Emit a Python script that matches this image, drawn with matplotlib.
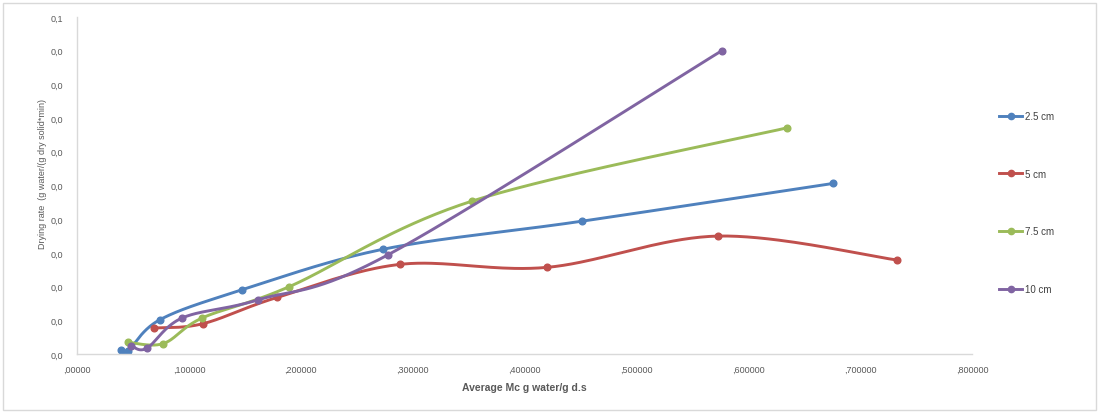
import matplotlib.pyplot as plt
import numpy as np
from matplotlib.patches import Rectangle

plt.rcParams['font.family'] = ['Liberation Sans', 'DejaVu Sans']

# Average moisture content (g water/g d.s) and drying rate for each bed thickness
x_25 = [0.0391, 0.0456, 0.0742, 0.1472, 0.2738, 0.4511, 0.6755]
y_25 = [0.0013, 0.0010, 0.0102, 0.0190, 0.0311, 0.0394, 0.0506]

x_5 = [0.0688, 0.1126, 0.1790, 0.2887, 0.4198, 0.5732, 0.7327]
y_5 = [0.0077, 0.0090, 0.0168, 0.0266, 0.0257, 0.0350, 0.0279]

x_75 = [0.0454, 0.0771, 0.1119, 0.1898, 0.3533, 0.6344]
y_75 = [0.0035, 0.0031, 0.0107, 0.0200, 0.0454, 0.0671]

x_10 = [0.0484, 0.0623, 0.0940, 0.1621, 0.2783, 0.5763]
y_10 = [0.0025, 0.0017, 0.0107, 0.0161, 0.0295, 0.0900]

etiketler = ["2.5 cm", "5 cm", "7.5 cm", "10 cm"]
renkler = ["#4F81BD", "#C0504D", "#9BBB59", "#8064A2"]

x_ticks = [0, 0.1, 0.2, 0.3, 0.4, 0.5, 0.6, 0.7, 0.8]
x_tick_labels = [",00000", ",100000", ",200000", ",300000", ",400000",
                 ",500000", ",600000", ",700000", ",800000"]
y_ticks = [0, 0.01, 0.02, 0.03, 0.04, 0.05, 0.06, 0.07, 0.08, 0.09, 0.1]
y_tick_labels = ["0,0"] * 10 + ["0,1"]


def smooth(xs, ys, sx, sy, n=40):
    # bezier curve through the points, like the smoothed lines of a spreadsheet
    p = np.column_stack([np.array(xs) * sx, np.array(ys) * sy])
    pts = np.vstack([p[0], p, p[-1]])
    t = np.linspace(0, 1, n)[:, None]
    parca = []
    for i in range(1, len(pts) - 2):
        p0, p1, p2, p3 = pts[i - 1], pts[i], pts[i + 1], pts[i + 2]
        c1 = p1 + (p2 - p0) / 6
        c2 = p2 - (p3 - p1) / 6
        parca.append((1 - t) ** 3 * p1 + 3 * (1 - t) ** 2 * t * c1
                     + 3 * (1 - t) * t ** 2 * c2 + t ** 3 * p2)
    c = np.vstack(parca)
    return c[:, 0] / sx, c[:, 1] / sy


fig = plt.figure(figsize=(10.99, 4.14), dpi=100)
ax = fig.add_axes([0.0701, 0.1425, 0.8144, 0.814])

sx = 895 / 0.8   # pixels per unit on each axis
sy = 337 / 0.1

seriler = [(x_25, y_25), (x_5, y_5), (x_75, y_75), (x_10, y_10)]
for (xs, ys), renk, etiket in zip(seriler, renkler, etiketler):
    cx, cy = smooth(xs, ys, sx, sy)
    ax.plot(cx, cy, color=renk, linewidth=2.1, solid_capstyle="round")
    ax.plot(xs, ys, "o", color=renk, markersize=4.8)
    ax.plot([], [], color=renk, linewidth=2.1, marker="o", markersize=4.5, label=etiket)

ax.set_xlim(0, 0.8)
ax.set_ylim(0, 0.1)
ax.set_xticks(x_ticks)
ax.set_xticklabels(x_tick_labels)
ax.set_yticks(y_ticks)
ax.set_yticklabels(y_tick_labels)
ax.tick_params(axis="x", length=0, pad=8, labelsize=6.5, labelcolor="#595959")
ax.tick_params(axis="y", length=0, pad=10, labelsize=6.5, labelcolor="#595959")

for s in ["top", "right"]:
    ax.spines[s].set_visible(False)
for s in ["left", "bottom"]:
    ax.spines[s].set_color("#d9d9d9")
    ax.spines[s].set_linewidth(1)

ax.set_xlabel("Average Mc g water/g d.s", fontsize=7.5, fontweight="bold", color="#595959", labelpad=6)
fig.text(0.039, 0.58, "Drying rate  (g water/(g dry solid*min)", rotation=90,
         fontsize=6.5, color="#595959", ha="center", va="center")

ax.legend(loc="center left", bbox_to_anchor=(0.909, 0.5085), bbox_transform=fig.transFigure,
          frameon=False, fontsize=7, labelcolor="#404040", handlelength=2.4,
          handletextpad=0.3, labelspacing=4.9, borderpad=0, borderaxespad=0)

fig.patches.append(Rectangle((3 / 1099, 3 / 414), 1093 / 1099, 407 / 414, transform=fig.transFigure,
                             fill=False, edgecolor="#d9d9d9", linewidth=1))

plt.savefig("out.png", dpi=100)
